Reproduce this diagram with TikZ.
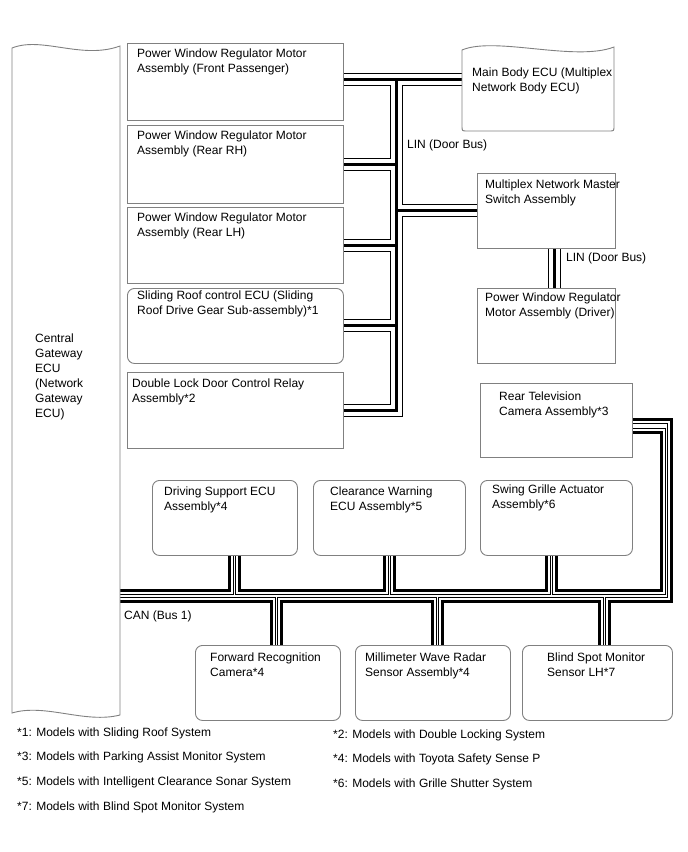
\documentclass[tikz,border=0pt]{standalone}
\usepackage{fontspec}
\setmainfont{Liberation Sans}
\usetikzlibrary{positioning, backgrounds}

\begin{document}
\begin{tikzpicture}[
    x=1pt, y=-1pt,
    box/.style={rectangle, draw=black!50, line width=0.9pt, fill=white,
                anchor=north west, inner sep=0pt},
    rbox/.style={box, rounded corners=7pt},
    txt/.style={anchor=north west, inner sep=0pt, align=left,
                font=\fontsize{12}{15}\selectfont},
    note/.style={anchor=west, inner sep=0pt, font=\fontsize{12}{15}\selectfont},
    canthick/.style={line width=3pt, line join=miter},
    canthin/.style={line width=0.9pt, line join=miter}
]
\useasboundingbox (0,0) rectangle (688,852);

% gateway and main body (wavy tops)
\node[inner sep=0pt, minimum width=108pt, minimum height=668pt, anchor=north west] (gw) at (12,46) {};
\draw[black!50, line width=0.9pt, fill=white]
    (12,48) .. controls (42,36) and (82,60) .. (120,46) -- (120,715)
    .. controls (85,724) and (45,703) .. (12,713) -- cycle;
\node[txt] (gwtxt) at (35,333.5) {Central\\Gateway\\ECU\\(Network\\Gateway\\ECU)};

\node[inner sep=0pt, minimum width=152pt, minimum height=84pt, anchor=north west] (mb) at (462,47) {};
\draw[black!50, line width=0.9pt, fill=white]
    (462,50) .. controls (495,36) and (575,62) .. (614,47) -- (614,126)
    .. controls (614,131) .. (609,131) -- (467,131) .. controls (462,131) .. (462,126) -- cycle;
\node[txt] (mbtxt) at (472,67.5) {Main Body ECU (Multiplex\\Network Body ECU)};

% door side
\node[box, minimum width=216pt, minimum height=77pt] (fp)  at (127,43)  {};
\node[box, minimum width=216pt, minimum height=78pt] (rrh) at (127,125) {};
\node[box, minimum width=216pt, minimum height=76pt] (rlh) at (127,207) {};
\node[rbox, minimum width=216pt, minimum height=75pt] (sr) at (127,288) {};
\node[box, minimum width=216pt, minimum height=76pt] (dl)  at (127,372) {};
\node[box, minimum width=138pt, minimum height=75pt] (ms)  at (477,173) {};
\node[box, minimum width=138pt, minimum height=75pt] (drv) at (477,288) {};

\node[txt] at ([shift={(10,5.5)}]fp.north west)  {Power Window Regulator Motor\\Assembly (Front Passenger)};
\node[txt] at ([shift={(10,5.5)}]rrh.north west) {Power Window Regulator Motor\\Assembly (Rear RH)};
\node[txt] at ([shift={(10,6)}]rlh.north west)   {Power Window Regulator Motor\\Assembly (Rear LH)};
\node[txt] at ([shift={(10,2.5)}]sr.north west)  {Sliding Roof control ECU (Sliding\\Roof Drive Gear Sub-assembly)*1};
\node[txt] at ([shift={(5,6.5)}]dl.north west)   {Double Lock Door Control Relay\\Assembly*2};
\node[txt] at ([shift={(8,6.5)}]ms.north west)   {Multiplex Network Master\\Switch Assembly};
\node[txt] at ([shift={(8,4.5)}]drv.north west)  {Power Window Regulator\\Motor Assembly (Driver)};

% can side
\node[box, minimum width=152pt, minimum height=74pt] (tv)  at (480,383) {};
\node[rbox, minimum width=145pt, minimum height=75pt] (ds) at (152,480) {};
\node[rbox, minimum width=152pt, minimum height=75pt] (cw) at (313,480) {};
\node[rbox, minimum width=152pt, minimum height=75pt] (sg) at (480,480) {};
\node[rbox, minimum width=145pt, minimum height=75pt] (fr) at (195,645) {};
\node[rbox, minimum width=155pt, minimum height=75pt] (mw) at (355,645) {};
\node[rbox, minimum width=150pt, minimum height=75pt] (bs) at (522,645) {};

\node[txt] at ([shift={(19,8.5)}]tv.north west) {Rear Television\\Camera Assembly*3};
\node[txt] at ([shift={(12,6.5)}]ds.north west) {Driving Support ECU\\Assembly*4};
\node[txt] at ([shift={(17,6.5)}]cw.north west) {Clearance Warning\\ECU Assembly*5};
\node[txt] at ([shift={(12,4.5)}]sg.north west) {Swing Grille Actuator\\Assembly*6};
\node[txt] at ([shift={(15,7.5)}]fr.north west) {Forward Recognition\\Camera*4};
\node[txt] at ([shift={(10,7.5)}]mw.north west) {Millimeter Wave Radar\\Sensor Assembly*4};
\node[txt] at ([shift={(25,7.5)}]bs.north west) {Blind Spot Monitor\\Sensor LH*7};

\node[note] (lin1) at (407,145) {LIN (Door Bus)};
\node[note] (lin2) at (566,258) {LIN (Door Bus)};
\node[note] (can1) at (124,616) {CAN (Bus 1)};

\node[note] (fn1) at (17,733) {*1: Models with Sliding Roof System};
\node[note] (fn3) at (17,757) {*3: Models with Parking Assist Monitor System};
\node[note] (fn5) at (17,782) {*5: Models with Intelligent Clearance Sonar System};
\node[note] (fn7) at (17,807) {*7: Models with Blind Spot Monitor System};
\node[note] (fn2) at (333,735) {*2: Models with Double Locking System};
\node[note] (fn4) at (333,759) {*4: Models with Toyota Safety Sense P};
\node[note] (fn6) at (333,784) {*6: Models with Grille Shutter System};

\begin{scope}[on background layer]
% LIN (Door Bus)
\foreach \w/\c in {13/black, 11/white, 3/black} {
    \draw[line width=\w pt, \c, line join=miter]
        (fp.east |- 0,79) -- (mb.west |- 0,79)
        (396,79) -- (396,410) -- (dl.east |- 0,410)
        (396,164) -- (rrh.east |- 0,164)
        (396,245) -- (rlh.east |- 0,245)
        (396,325) -- (sr.east |- 0,325)
        (396,210) -- (ms.west |- 0,210)
        (554,0 |- ms.south) -- (554,0 |- drv.north);
}
% CAN (Bus 1)
\draw[canthick] (gw.east |- 0,590.5) -- (229,590.5) -- (229,0 |- ds.south);
\draw[canthin]  (gw.east |- 0,594.5) -- (233,594.5) -- (233,0 |- ds.south);
\draw[canthick] (239,0 |- ds.south) -- (239,590.5) -- (384,590.5) -- (384,0 |- cw.south);
\draw[canthin]  (235,0 |- ds.south) -- (235,594.5) -- (388,594.5) -- (388,0 |- cw.south);
\draw[canthick] (394,0 |- cw.south) -- (394,590.5) -- (546,590.5) -- (546,0 |- sg.south);
\draw[canthin]  (390,0 |- cw.south) -- (390,594.5) -- (550,594.5) -- (550,0 |- sg.south);
\draw[canthick] (556,0 |- sg.south) -- (556,590.5) -- (661,590.5) -- (661,432) -- (tv.east |- 0,432);
\draw[canthin]  (552,0 |- sg.south) -- (552,594.5) -- (665,594.5) -- (665,428) -- (tv.east |- 0,428);
\draw[canthick] (tv.east |- 0,419.5) -- (671.5,419.5) -- (671.5,601.5) -- (609.5,601.5) -- (609.5,0 |- bs.north);
\draw[canthin]  (tv.east |- 0,423.5) -- (667.5,423.5) -- (667.5,597.5) -- (605.5,597.5) -- (605.5,0 |- bs.north);
\draw[canthick] (599.5,0 |- bs.north) -- (599.5,601.5) -- (442,601.5) -- (442,0 |- mw.north);
\draw[canthin]  (603.5,0 |- bs.north) -- (603.5,597.5) -- (438,597.5) -- (438,0 |- mw.north);
\draw[canthick] (432,0 |- mw.north) -- (432,601.5) -- (281.5,601.5) -- (281.5,0 |- fr.north);
\draw[canthin]  (436,0 |- mw.north) -- (436,597.5) -- (277.5,597.5) -- (277.5,0 |- fr.north);
\draw[canthick] (271.5,0 |- fr.north) -- (271.5,601.5) -- (gw.east |- 0,601.5);
\draw[canthin]  (275.5,0 |- fr.north) -- (275.5,597.5) -- (gw.east |- 0,597.5);
\end{scope}
\end{tikzpicture}
\end{document}
